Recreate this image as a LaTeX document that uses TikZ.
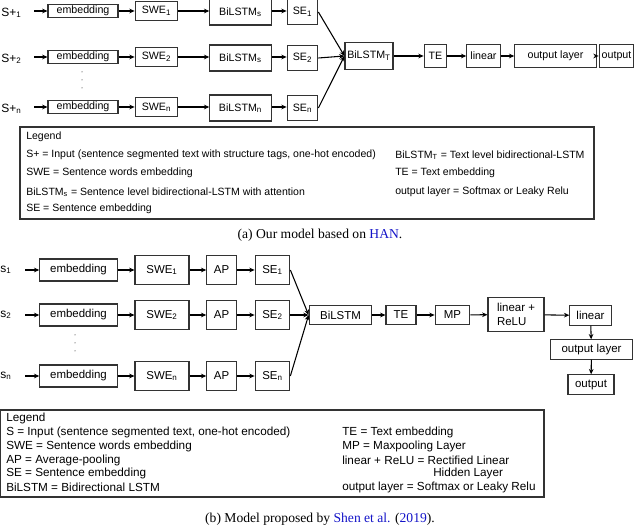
\documentclass[tikz,border=0pt]{standalone}
\usepackage{fontspec}
\setmainfont{Liberation Sans}
\newfontfamily\capfont{Liberation Serif}
\usetikzlibrary{arrows.meta}
\definecolor{linkblue}{RGB}{20,20,200}
\newcommand\lowsub[1]{\textsubscript{#1}}

\begin{document}
\begin{tikzpicture}[x=0.75pt,y=-0.75pt,
    B/.style={draw, thick, black!80, text=black, inner sep=1pt, font=\fontsize{8}{9}\selectfont},
    L/.style={B, font=\fontsize{8.6}{10}\selectfont},
    T/.style={anchor=west, inner sep=0pt, font=\fontsize{7.9}{9}\selectfont},
    TL/.style={anchor=west, inner sep=0pt, font=\fontsize{8.8}{10}\selectfont},
    arr/.style={thick, -{Stealth[length=4pt,width=3.5pt]}}]
    \useasboundingbox (0,0) rectangle (640,527);

    % (a) our model
    \foreach \r/\y/\i/\s in {1/11/1/s, 2/57/2/s, 3/107/n/n} {
        \node[anchor=west, inner sep=0pt, font=\fontsize{9}{10}\selectfont] (sa\r) at (1,\y+2) {S+\lowsub{\i}};
        \coordinate (ia\r) at (34,\y);
        \node[B, minimum width=52.5pt, minimum height=8.5pt] (ea\r) at (83,\y) {embedding};
        \node[B, minimum width=32pt, minimum height=14pt] (wa\r) at (156.5,\y) {SWE\lowsub{\i}};
        \node[B, minimum width=46pt, minimum height=19.5pt] (ba\r) at (240.5,\y+1) {BiLSTM\lowsub{\s}};
        \node[B, minimum width=23pt, minimum height=19pt] (ca\r) at (302.5,\y+1) {SE\lowsub{\i}};
        \draw[arr] (ia\r) -- (ea\r);
        \draw[arr] (ea\r) -- (wa\r);
        \draw[arr] (wa\r) -- (ba\r.west |- wa\r);
        \draw[arr] (ba\r.east |- wa\r) -- (ca\r.west |- wa\r);
    }
    \node[B, minimum width=36pt, minimum height=20pt] (bta) at (369,56) {BiLSTM\lowsub{T}};
    \node[B, minimum width=17pt, minimum height=17pt] (tea) at (435.5,56) {TE};
    \node[B, minimum width=25pt, minimum height=17pt] (lia) at (483.5,56) {linear};
    \node[B, minimum width=61pt, minimum height=17pt] (ola) at (555.5,56) {output layer};
    \node[B, minimum width=26pt, minimum height=17pt] (oua) at (616.5,56) {output};
    \foreach \r in {1,2,3} \draw[arr] (ca\r.east) -- (bta.west);
    \draw[arr] (bta) -- (tea);
    \draw[arr] (tea) -- (lia);
    \draw[arr] (lia) -- (ola);
    \draw[arr] (ola) -- (oua);
    \foreach \y in {72,80,88} \fill (82,\y) circle (0.5);

    \draw[thick, black!80] (20,127) rectangle (594,219);
    \node[T] (lga) at (26,137) {Legend};
    \node[T] (l1a) at (26,155) {S+ = Input (sentence segmented text with structure tags, one-hot encoded)};
    \node[T] (l2a) at (26,173) {SWE = Sentence words embedding};
    \node[T] (l3a) at (26,192) {BiLSTM\lowsub{s} = Sentence level bidirectional-LSTM with attention};
    \node[T] (l4a) at (26,209) {SE = Sentence embedding};
    \node[T] (r1a) at (395,155) {BiLSTM\lowsub{T} = Text level bidirectional-LSTM};
    \node[T] (r2a) at (395,173) {TE = Text embedding};
    \node[T] (r3a) at (395,192) {output layer = Softmax or Leaky Relu};
    \node[font=\capfont\fontsize{10.2}{12}\selectfont] (capa) at (320,235) {(a) Our model based on \textcolor{linkblue}{HAN}.};

    % (b) Shen et al.
    \foreach \r/\y/\i in {1/270/1, 2/315/2, 3/376/n} {
        \node[anchor=west, inner sep=0pt, font=\fontsize{9}{10}\selectfont] (sb\r) at (0,\y) {s\lowsub{\i}};
        \coordinate (ib\r) at (25,\y);
        \node[L, minimum width=58pt, minimum height=16.5pt] (eb\r) at (78.5,\y) {embedding};
        \node[L, minimum width=40.5pt, minimum height=22pt] (wb\r) at (162,\y) {SWE\lowsub{\i}};
        \node[L, minimum width=22pt, minimum height=22pt] (ab\r) at (221.5,\y) {AP};
        \node[L, minimum width=26pt, minimum height=22pt] (cb\r) at (272.5,\y) {SE\lowsub{\i}};
        \draw[arr] (ib\r) -- (eb\r);
        \draw[arr] (eb\r) -- (wb\r);
        \draw[arr] (wb\r) -- (ab\r);
        \draw[arr] (ab\r) -- (cb\r);
    }
    \node[L, minimum width=47pt, minimum height=14.5pt] (blb) at (340.5,315) {BiLSTM};
    \node[L, minimum width=22.5pt, minimum height=14.5pt] (teb) at (401,315) {TE};
    \node[L, minimum width=26pt, minimum height=14.5pt] (mpb) at (452.5,315) {MP};
    \node[L, minimum width=42pt, minimum height=26pt, align=left] (lrb) at (516,314.5) {linear +\\ReLU};
    \node[L, minimum width=31pt, minimum height=14.5pt] (lib) at (590.5,315.5) {linear};
    \node[L, minimum width=61pt, minimum height=14.5pt] (olb) at (591.5,349.5) {output layer};
    \node[L, minimum width=34.5pt, minimum height=14.5pt] (oub) at (591,384.5) {output};
    \foreach \r in {1,2,3} \draw[arr] (cb\r.east) -- (blb.west);
    \draw[arr] (blb) -- (teb);
    \draw[arr] (teb) -- (mpb);
    \draw[arr] (mpb) -- (lrb);
    \draw[arr] (lrb) -- (lib);
    \draw[arr] (lib) -- (olb);
    \draw[arr] (olb) -- (oub);
    \foreach \y in {335,343,351} \fill (75,\y) circle (0.5);

    \draw[thick, black!80] (0,410) rectangle (544,497);
    \node[TL] (lgb) at (6,418) {Legend};
    \node[TL] (l1b) at (6,432) {S = Input (sentence segmented text, one-hot encoded)};
    \node[TL] (l2b) at (6,446) {SWE = Sentence words embedding};
    \node[TL] (l3b) at (6,460) {AP = Average-pooling};
    \node[TL] (l4b) at (6,473) {SE = Sentence embedding};
    \node[TL] (l5b) at (6,487) {BiLSTM = Bidirectional LSTM};
    \node[TL] (r1b) at (342,432) {TE = Text embedding};
    \node[TL] (r2b) at (342,446) {MP = Maxpooling Layer};
    \node[TL] (r3b) at (342,460) {linear + ReLU = Rectified Linear};
    \node[TL] (r4b) at (433,473) {Hidden Layer};
    \node[TL] (r5b) at (342,487) {output layer = Softmax or Leaky Relu};
    \node[font=\capfont\fontsize{10.2}{12}\selectfont] (capb) at (320,519) {(b) Model proposed by \textcolor{linkblue}{Shen et al.} (\textcolor{linkblue}{2019}).};
\end{tikzpicture}
\end{document}
